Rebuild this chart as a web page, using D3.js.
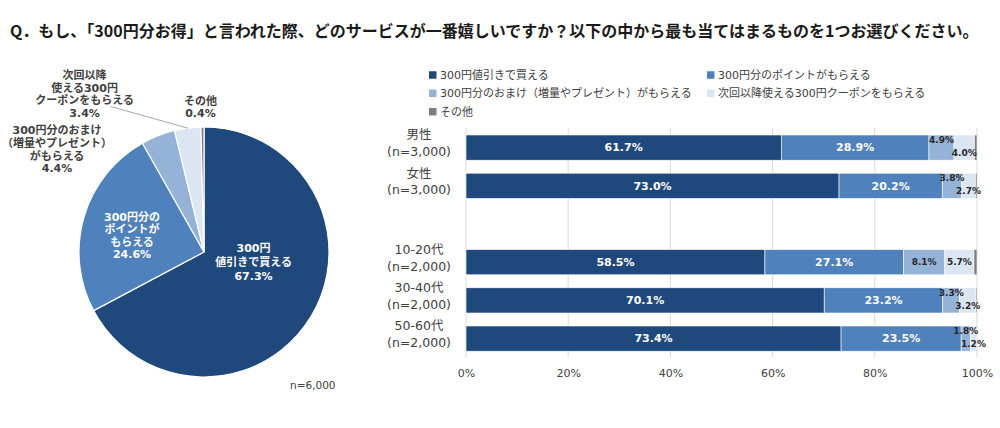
<!DOCTYPE html>
<html>
<head>
<meta charset="utf-8">
<script src="https://cdn.jsdelivr.net/npm/d3@7"></script>
<style>
body { margin: 0; background: #fff; }
text { font-family: "DejaVu Sans", "Noto Sans CJK JP", sans-serif; }
</style>
</head>
<body>
<svg id="chart" width="1000" height="428"></svg>
<script>
var title = 'Q．もし、「300円分お得」と言われた際、どのサービスが一番嬉しいですか？以下の中から最も当てはまるものを1つお選びください。';

var seriesNames = ['300円値引きで買える', '300円分のポイントがもらえる', '300円分のおまけ（増量やプレゼント）がもらえる', '次回以降使える300円クーポンをもらえる', 'その他'];
var colors = ['#1f497d', '#4f81bd', '#95b3d7', '#dce6f2', '#7f7f7f'];

var pieValues = [67.3, 24.6, 4.4, 3.4, 0.4];
var pieLabels = [
    ['300円', '値引きで買える'],
    ['300円分の', 'ポイントが', 'もらえる'],
    ['300円分のおまけ', '（増量やプレゼント）', 'がもらえる'],
    ['次回以降', '使える300円', 'クーポンをもらえる'],
    ['その他']
];
var pieTotal = 'n=6,000';

var groups = ['男性', '女性', '10-20代', '30-40代', '50-60代'];
var groupSizes = ['(n=3,000)', '(n=3,000)', '(n=2,000)', '(n=2,000)', '(n=2,000)'];
var discountValues = [61.7, 73.0, 58.5, 70.1, 73.4];
var pointValues = [28.9, 20.2, 27.1, 23.2, 23.5];
var bonusValues = [4.9, 3.8, 8.1, 3.3, 1.8];
var couponValues = [4.0, 2.7, 5.7, 3.2, 1.2];
var otherValues = [0.5, 0.3, 0.6, 0.2, 0.1];
var xTicks = [0, 20, 40, 60, 80, 100];

var textColor = '#404040';
var svg = d3.select('#chart');

svg.append('text')
    .attr('x', 10)
    .attr('y', 31)
    .attr('dy', '0.35em')
    .style('font-family', '"Noto Sans CJK JP", sans-serif')
    .style('font-weight', 'bold')
    .style('font-size', '16px')
    .style('fill', '#1a1a1a')
    .text(title);

drawPie();
drawLegend();
drawBars();

function drawPie() {
    var radius = 125, cx = 204, cy = 252;
    var pie = d3.pie().sort(null).value(function(d) { return d; });
    var arc = d3.arc().innerRadius(0).outerRadius(radius);
    var edgeArc = d3.arc().innerRadius(radius).outerRadius(radius);
    var slices = pie(pieValues);

    var g = svg.append('g')
        .attr('transform', 'translate(' + cx + ',' + cy + ')');

    g.selectAll('path')
        .data(slices)
        .enter().append('path')
        .attr('d', arc)
        .style('fill', function(d, i) { return colors[i]; })
        .style('stroke', '#fff')
        .style('stroke-width', 1.2);

    // label anchors: centroid for inner labels, rim point for outer ones
    var layout = [
        {inside: true, dx: -4, dy: -22, lh: 14},
        {inside: true, dx: -12, dy: 1, lh: 12.3},
        {inside: false, dx: -101, dy: 13.5, lh: 12.8},
        {inside: false, dx: -103, dy: -34, lh: 12.8, leader: true},
        {inside: false, dx: -2, dy: -20, lh: 12}
    ];

    slices.forEach(function(d, i) {
        var l = layout[i];
        var p = l.inside ? arc.centroid(d) : edgeArc.centroid(d);
        var ax = p[0] + l.dx, ay = p[1] + l.dy;
        var lines = pieLabels[i].concat([d.data.toFixed(1) + '%']);
        var top = ay - (lines.length - 1) * l.lh / 2;

        var t = g.append('text')
            .attr('text-anchor', 'middle')
            .style('font-weight', 'bold')
            .style('font-size', '11px')
            .style('fill', l.inside ? '#fff' : textColor);
        lines.forEach(function(s, j) {
            t.append('tspan')
                .attr('x', ax)
                .attr('y', top + j * l.lh)
                .attr('dy', '0.35em')
                .text(s);
        });

        if (l.leader) {
            g.append('line')
                .attr('x1', ax + 26)
                .attr('y1', top + 2 * l.lh + 6)
                .attr('x2', p[0])
                .attr('y2', p[1])
                .style('stroke', '#a6a6a6')
                .style('stroke-width', 1);
        }
    });

    svg.append('text')
        .attr('x', 290)
        .attr('y', 385)
        .attr('dy', '0.35em')
        .style('font-size', '10.5px')
        .style('fill', textColor)
        .text(pieTotal);
}

function drawLegend() {
    var colX = [429, 707], rowY = [75, 93.3, 111.7], box = 7.5;
    var item = svg.selectAll('.legend')
        .data(seriesNames)
        .enter().append('g')
        .attr('class', 'legend')
        .attr('transform', function(d, i) {
            return 'translate(' + colX[i % 2] + ',' + rowY[Math.floor(i / 2)] + ')';
        });

    item.append('rect')
        .attr('y', -box / 2)
        .attr('width', box)
        .attr('height', box)
        .style('fill', function(d, i) { return colors[i]; });

    item.append('text')
        .attr('x', box + 3.5)
        .attr('dy', '0.35em')
        .style('font-size', '11px')
        .style('fill', textColor)
        .text(function(d) { return d; });
}

function drawBars() {
    var keys = ['discount', 'point', 'bonus', 'coupon', 'other'];
    var table = groups.map(function(g, i) {
        return {
            group: g,
            discount: discountValues[i],
            point: pointValues[i],
            bonus: bonusValues[i],
            coupon: couponValues[i],
            other: otherValues[i]
        };
    });

    // blank slot between gender rows and age rows
    var rows = groups.slice(0, 2).concat(['']).concat(groups.slice(2));

    var x = d3.scaleLinear().domain([0, 100]).range([466, 977]);
    var y = d3.scaleBand()
        .domain(rows)
        .range([128.5, 357.7])
        .paddingInner(0.34)
        .paddingOuter(0.17);
    var gridTop = 128, gridBottom = 357;

    svg.append('g')
        .selectAll('line')
        .data(xTicks)
        .enter().append('line')
        .attr('x1', function(d) { return x(d); })
        .attr('x2', function(d) { return x(d); })
        .attr('y1', gridTop)
        .attr('y2', gridBottom)
        .style('stroke', '#d9d9d9')
        .style('stroke-width', 1);

    var xAxis = svg.append('g')
        .attr('transform', 'translate(0,' + gridBottom + ')')
        .call(d3.axisBottom(x)
            .tickValues(xTicks)
            .tickSize(0)
            .tickPadding(12)
            .tickFormat(function(d) { return d + '%'; }));
    xAxis.select('.domain').remove();
    xAxis.selectAll('text')
        .style('font-size', '11px')
        .style('font-family', '"DejaVu Sans", sans-serif')
        .style('fill', textColor);

    var series = d3.stack().keys(keys)(table);

    var layer = svg.selectAll('.layer')
        .data(series)
        .enter().append('g')
        .attr('class', 'layer')
        .style('fill', function(d, i) { return colors[i]; });

    layer.selectAll('rect')
        .data(function(d) { return d; })
        .enter().append('rect')
        .attr('x', function(d) { return x(d[0]); })
        .attr('y', function(d) { return y(d.data.group); })
        .attr('width', function(d) { return x(d[1]) - x(d[0]); })
        .attr('height', y.bandwidth())
        .style('stroke', '#fff')
        .style('stroke-width', 0.6);

    series.forEach(function(s, k) {
        if (k > 3) return;
        svg.append('g')
            .selectAll('text')
            .data(s)
            .enter().append('text')
            .attr('text-anchor', 'middle')
            .attr('dy', '0.35em')
            .attr('x', function(d) { return x((d[0] + d[1]) / 2); })
            .attr('y', function(d) {
                var v = d[1] - d[0];
                var top = y(d.data.group);
                if (k < 2 || v >= 5) return top + y.bandwidth() / 2;
                return k === 2 ? top + 5 : top + y.bandwidth() - 7.5;
            })
            .style('font-weight', 'bold')
            .style('font-size', k < 2 ? '11px' : '9px')
            .style('fill', k < 2 ? '#fff' : '#262626')
            .text(function(d) { return d.data[keys[k]].toFixed(1) + '%'; });
    });

    var labels = svg.append('g')
        .selectAll('text')
        .data(groups)
        .enter().append('text')
        .attr('text-anchor', 'middle')
        .style('font-size', '12.5px')
        .style('fill', textColor);

    labels.append('tspan')
        .attr('x', 419)
        .attr('y', function(d) { return y(d) + y.bandwidth() / 2 - 12.5; })
        .attr('dy', '0.35em')
        .text(function(d) { return d; });

    labels.append('tspan')
        .attr('x', 419)
        .attr('y', function(d) { return y(d) + y.bandwidth() / 2 + 4; })
        .attr('dy', '0.35em')
        .text(function(d, i) { return groupSizes[i]; });
}
</script>
</body>
</html>
